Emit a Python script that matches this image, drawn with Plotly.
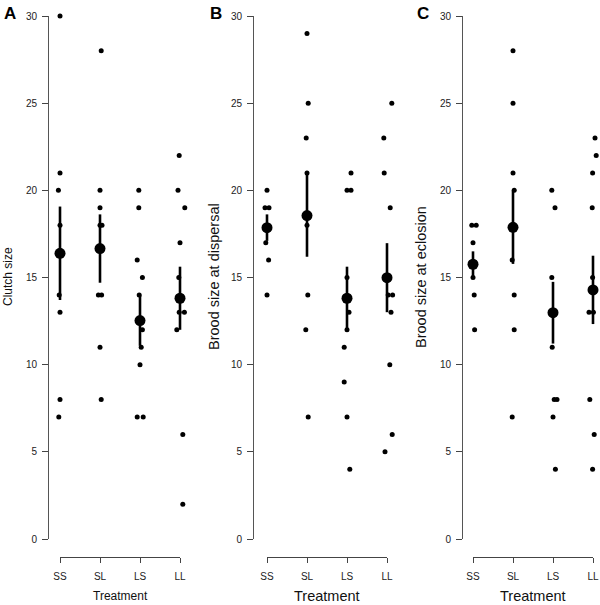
import plotly.graph_objects as go

W, H = 600, 605
categories = ["SS", "SL", "LS", "LL"]
y_ticks = [0, 5, 10, 15, 20, 25, 30]

# Panel A: clutch size (values per treatment) and read-off horizontal jitter
clutch_values = [
    [30, 21, 20, 18, 14, 13, 8, 7],
    [28, 20, 19, 18, 18, 14, 14, 11, 8],
    [20, 19, 16, 15, 14, 12, 11, 10, 7, 7],
    [22, 20, 19, 17, 15, 13, 13, 12, 6, 2],
]
clutch_jitter = [
    [0.0, 0.0, -0.04, 0.0, -0.02, 0.0, 0.0, -0.03],
    [0.03, 0.0, 0.0, 0.0, 0.05, -0.04, 0.04, 0.0, 0.03],
    [-0.03, -0.03, -0.07, 0.06, -0.02, 0.06, 0.03, 0.0, -0.07, 0.08],
    [-0.02, -0.05, 0.12, 0.0, -0.03, -0.02, 0.11, -0.08, 0.07, 0.07],
]
clutch_mean = [16.39, 16.66, 12.53, 13.81]
clutch_se = [2.68, 1.96, 1.45, 1.81]

# Panel B: brood size at dispersal
dispersal_values = [
    [20, 19, 19, 17, 16, 14],
    [29, 25, 23, 21, 18, 14, 12, 7],
    [21, 20, 20, 15, 13, 12, 11, 9, 7, 4],
    [25, 23, 21, 19, 14, 14, 13, 10, 6, 5],
]
dispersal_jitter = [
    [0.0, -0.05, 0.05, -0.03, 0.04, 0.0],
    [0.0, 0.03, -0.02, 0.0, 0.0, 0.02, -0.03, 0.03],
    [0.1, 0.0, 0.1, 0.0, 0.05, 0.0, -0.07, -0.07, 0.0, 0.07],
    [0.12, -0.08, -0.07, 0.08, 0.03, 0.14, 0.1, 0.07, 0.13, -0.05],
]
dispersal_mean = [17.86, 18.55, 13.81, 14.99]
dispersal_se = [0.76, 2.36, 1.81, 1.98]

# Panel C: brood size at eclosion
eclosion_values = [
    [18, 18, 17, 15, 14, 12],
    [28, 25, 21, 20, 16, 14, 12, 7],
    [20, 19, 15, 11, 8, 8, 7, 4],
    [23, 22, 21, 19, 15, 13, 13, 8, 6, 4],
]
eclosion_jitter = [
    [-0.03, 0.08, 0.0, 0.0, 0.03, 0.04],
    [0.0, 0.0, 0.0, 0.03, -0.02, 0.03, 0.03, -0.02],
    [-0.03, 0.05, -0.03, -0.02, 0.03, 0.1, 0.0, 0.06],
    [0.05, 0.08, -0.01, -0.02, -0.01, -0.1, 0.01, -0.08, 0.03, -0.01],
]
eclosion_mean = [15.76, 17.88, 12.98, 14.29]
eclosion_se = [0.74, 2.1, 1.77, 1.96]

panel_letters = ["A", "B", "C"]
y_titles = ["Clutch size", "Brood size at dispersal", "Brood size at eclosion"]

panels = [
    (clutch_values, clutch_jitter, clutch_mean, clutch_se),
    (dispersal_values, dispersal_jitter, dispersal_mean, dispersal_se),
    (eclosion_values, eclosion_jitter, eclosion_mean, eclosion_se),
]

# layout geometry (window pixels)
yaxis_px = [48, 253, 462]
cat_first_px = [60, 267, 473]
px_per_cat = 40
data_range = [(0.7, 4.3), (0.65, 4.3), (0.75, 4.175)]
y_top_px, y_bot_px = 16, 539
xaxis_line_px = 557
ytitle_px = [8, 214, 421]
ytitle_size = [12, 14.5, 14.5]
xtitle_size = [12, 14.5, 14.5]

FONT = "Liberation Sans, Arial, Helvetica, sans-serif"
AXC = "#444"


def px_x(p):
    return p / W


def px_y(p):
    return 1 - p / H


fig = go.Figure()
layout = dict(
    width=W, height=H,
    margin=dict(l=0, r=0, t=0, b=0, autoexpand=False),
    paper_bgcolor="white", plot_bgcolor="rgba(0,0,0,0)",
    showlegend=False,
    font=dict(family=FONT, color="#222"),
)
annotations = []

for i, (vals, jit, means, ses) in enumerate(panels):
    n = i + 1
    dx = "x" if n == 1 else f"x{n}"        # hidden data axis
    vx = f"x{n + 3}"                       # visible category axis
    ya = "y" if n == 1 else f"y{n}"
    dkey = "xaxis" if n == 1 else f"xaxis{n}"
    vkey = f"xaxis{n + 3}"
    ykey = "yaxis" if n == 1 else f"yaxis{n}"

    xs, ys = [], []
    for c, (vlist, jlist) in enumerate(zip(vals, jit)):
        for v, j in zip(vlist, jlist):
            xs.append(c + 1 + j)
            ys.append(v)
    fig.add_trace(go.Scatter(
        x=xs, y=ys, mode="markers", xaxis=dx, yaxis=ya,
        marker=dict(size=5, color="black"), cliponaxis=False, hoverinfo="skip"))
    fig.add_trace(go.Scatter(
        x=[1, 2, 3, 4], y=means, mode="markers", xaxis=dx, yaxis=ya,
        marker=dict(size=11, color="black"), cliponaxis=False,
        error_y=dict(type="data", array=ses, visible=True, color="black",
                     thickness=2.6, width=0)))
    # carrier for the visible category axis (no visible marks)
    fig.add_trace(go.Scatter(
        x=[1, 4], y=[None, None], mode="markers", xaxis=vx, yaxis=ya,
        hoverinfo="skip", showlegend=False))

    r0, r1 = data_range[i]
    c1 = cat_first_px[i]
    d0 = c1 + (r0 - 1) * px_per_cat
    d1 = c1 + (r1 - 1) * px_per_cat
    layout[dkey] = dict(
        domain=[max(0.0, px_x(d0)), min(1.0, px_x(d1))], range=[r0, r1],
        visible=False, showgrid=False, zeroline=False,
        anchor=ya,
    )
    layout[vkey] = dict(
        domain=[px_x(c1), px_x(c1 + 3 * px_per_cat)], range=[1, 4],
        anchor="free", position=px_y(xaxis_line_px),
        tickmode="array", tickvals=[1, 2, 3, 4], ticktext=categories,
        ticks="outside", ticklen=5, tickwidth=1, tickcolor=AXC,
        ticklabelstandoff=5,
        showline=True, linecolor=AXC, linewidth=1,
        showgrid=False, zeroline=False,
        tickfont=dict(size=10, color="#222", family=FONT),
    )
    layout[ykey] = dict(
        domain=[px_y(y_bot_px), px_y(y_top_px)], range=[0, 30],
        anchor="free", position=px_x(yaxis_px[i]),
        tickmode="array", tickvals=y_ticks,
        ticks="outside", ticklen=6, tickwidth=1, tickcolor=AXC,
        ticklabelstandoff=3,
        showline=True, linecolor="#555", linewidth=1.3,
        showgrid=False, zeroline=False,
        tickfont=dict(size=10, color="#222", family=FONT),
    )

    annotations.append(dict(
        x=px_x(ytitle_px[i]), y=px_y(277), xref="paper", yref="paper",
        text=y_titles[i], textangle=-90, showarrow=False,
        font=dict(size=ytitle_size[i], color="#111", family=FONT),
        xanchor="center", yanchor="middle"))
    annotations.append(dict(
        x=px_x(c1 + 1.5 * px_per_cat), y=px_y(596), xref="paper", yref="paper",
        text="Treatment", showarrow=False,
        font=dict(size=xtitle_size[i], color="#111", family=FONT),
        xanchor="center", yanchor="middle"))
    annotations.append(dict(
        x=px_x(ytitle_px[i] + 2), y=px_y(14), xref="paper", yref="paper",
        text=f"<b>{panel_letters[i]}</b>", showarrow=False,
        font=dict(size=17, color="black", family=FONT),
        xanchor="center", yanchor="middle"))

layout["annotations"] = annotations
fig.update_layout(**layout)
fig.write_html(
    "out.html",
    config={"displayModeBar": False, "staticPlot": True},
    post_script="document.body.style.margin='0';document.body.style.overflow='hidden';",
)
